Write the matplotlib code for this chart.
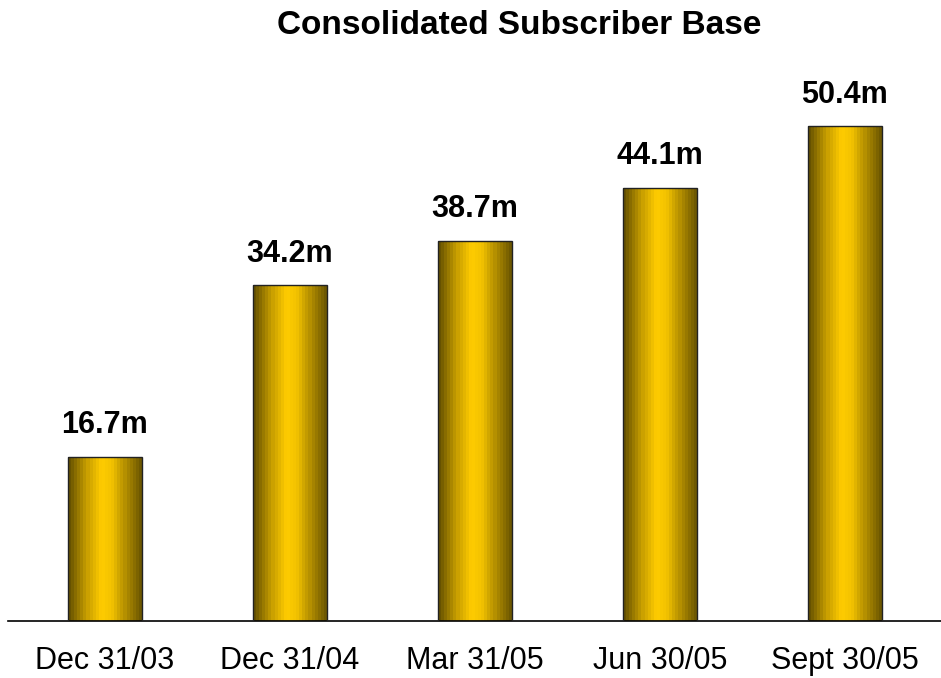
import numpy as np
import matplotlib.pyplot as plt
from matplotlib.colors import LinearSegmentedColormap

plt.rcParams['font.family'] = ['Liberation Sans', 'DejaVu Sans']

fechas = ["Dec 31/03", "Dec 31/04", "Mar 31/05", "Jun 30/05", "Sept 30/05"]
suscriptores = [16.7, 34.2, 38.7, 44.1, 50.4]
etiquetas = ["16.7m", "34.2m", "38.7m", "44.1m", "50.4m"]

# degradado horizontal de las barras: oscuro - amarillo - oscuro
cmap = LinearSegmentedColormap.from_list(
    "oro", [(0.0, "#665200"), (0.25, "#c9a000"), (0.45, "#ffcc00"),
            (0.6, "#f2c200"), (0.8, "#b08c00"), (1.0, "#6e5800")])
grad = np.linspace(0, 1, 24).reshape(1, -1)

fig = plt.figure(figsize=(9.41, 6.78), dpi=100)
ax = fig.add_axes([8 / 941, 57 / 678, 933 / 941, 589 / 678])

ancho = 0.4
x = np.arange(len(fechas))
barras = ax.bar(x, suscriptores, width=ancho, color="none",
                edgecolor="#222222", linewidth=1.0, zorder=3)
for b in barras:
    x0, y0 = b.get_x(), b.get_y()
    w, h = b.get_width(), b.get_height()
    ax.imshow(grad, cmap=cmap, aspect="auto", interpolation="nearest",
              extent=[x0, x0 + w, y0, y0 + h], zorder=2)

for xi, v, t in zip(x, suscriptores, etiquetas):
    ax.text(xi, v + 1.7, t, ha="center", va="bottom",
            fontsize=22, fontweight="bold")

ax.set_xlim(-0.524, 4.52)
ax.set_ylim(0, 60)
ax.set_xticks(x)
ax.set_xticklabels(fechas, fontsize=22)
ax.tick_params(axis="x", length=0, pad=18)
ax.set_yticks([])
for lado in ["top", "right", "left"]:
    ax.spines[lado].set_visible(False)
ax.spines["bottom"].set_linewidth(1.2)

fig.text(519 / 941, 1 - 26 / 678, "Consolidated Subscriber Base",
         ha="center", va="center", fontsize=24, fontweight="bold")

fig.savefig("out.png", dpi=100)
